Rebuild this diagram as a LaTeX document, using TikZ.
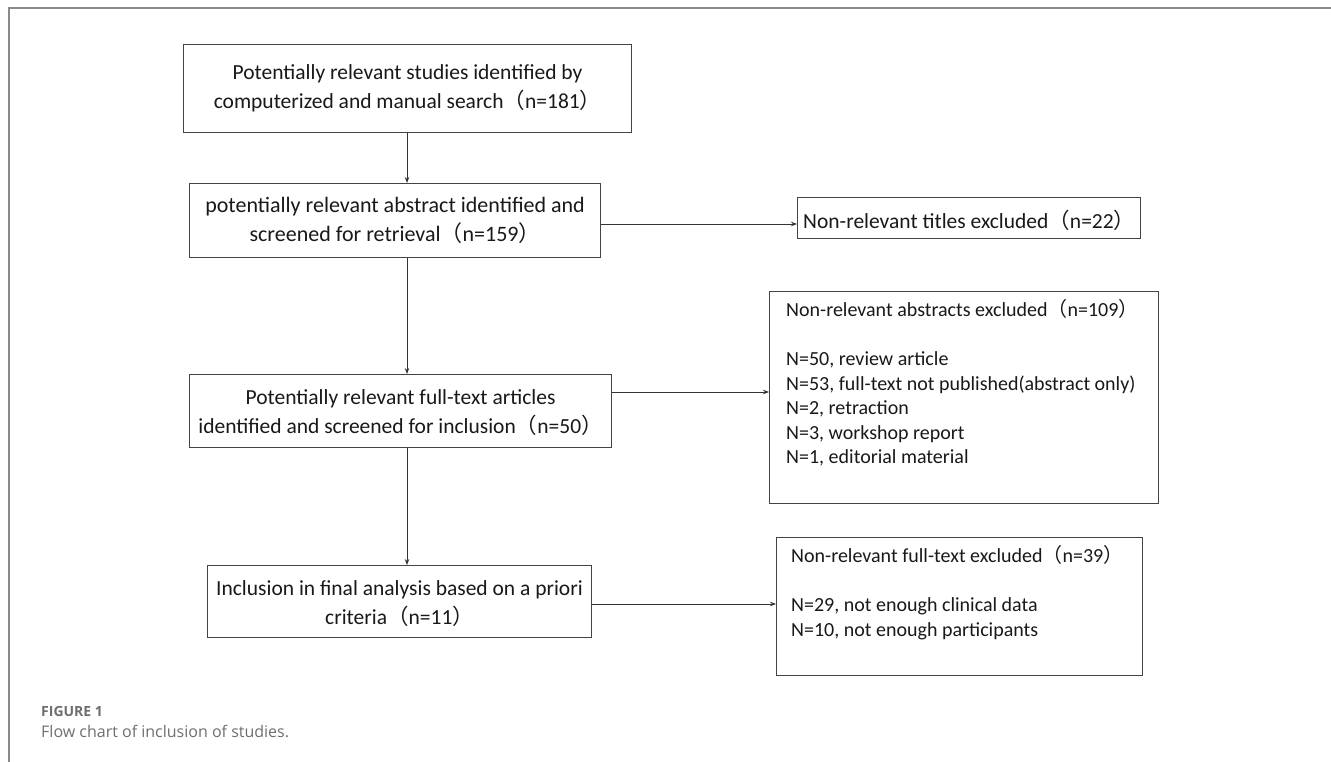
\documentclass[tikz,border=0pt]{standalone}
\usepackage{fontspec}
\setmainfont{Carlito}
\newfontfamily\cjk{Noto Sans CJK SC}
\newfontfamily\capfont{Open Sans}
\usetikzlibrary{arrows.meta}
\newcommand{\lp}{{\cjk （}}
\newcommand{\rp}{{\cjk ）}}
\definecolor{boxline}{HTML}{444444}
\definecolor{arrline}{HTML}{333333}
\definecolor{frameline}{HTML}{8A8A8A}
\definecolor{captext}{HTML}{6E6E6E}
\tikzset{
  box/.style={draw=boxline, line width=1.1pt, fill=white, inner sep=0pt, anchor=north west},
  boxtext/.style={font=\fontsize{21.5}{29}\selectfont, align=center, text=black!90},
  listtext/.style={font=\fontsize{20}{24.5}\selectfont, align=left, anchor=north west, inner sep=0pt, text=black!90},
  arr/.style={draw=arrline, line width=0.9pt, -{Stealth[length=6pt,width=4.5pt]}},
}
\begin{document}
\begin{tikzpicture}[x=1pt,y=-1pt]
\useasboundingbox (0,0) rectangle (1331,762);
% frame
\draw[frameline, line width=2pt] (9,762) -- (9,8) -- (1331,8);
% main column boxes
\node[box, minimum width=448pt, minimum height=88pt] (b1) at (183,44) {};
\node[boxtext] (t1) at (b1.center) {Potentially relevant studies identified by\\computerized and manual search\lp n=181\rp};
\node[box, minimum width=411pt, minimum height=74pt] (b2) at (189,183) {};
\node[boxtext, font=\fontsize{22}{29}\selectfont] (t2) at (b2.center) {potentially relevant abstract identified and\\screened for retrieval\lp n=159\rp};
\node[box, minimum width=422pt, minimum height=73pt] (b3) at (189,374) {};
\node[boxtext] (t3) at ([yshift=-2pt]b3.center) {Potentially relevant full-text articles\\identified and screened for inclusion\lp n=50\rp};
\node[box, minimum width=384pt, minimum height=72pt] (b4) at (207,565) {};
\node[boxtext] (t4) at ([yshift=-2pt]b4.center) {Inclusion in final analysis based on a priori\\criteria\lp n=11\rp};
% right boxes
\node[box, minimum width=343pt, minimum height=41pt] (r1) at (797,197) {};
\node[listtext, font=\fontsize{21.5}{26}\selectfont, anchor=west] (u1) at ([xshift=6pt,yshift=-2pt]r1.west) {Non-relevant titles excluded\lp n=22\rp};
\node[box, minimum width=389pt, minimum height=212pt] (r2) at (769,291) {};
\node[listtext] (u2) at ([xshift=17pt,yshift=-8pt]r2.north west) {Non-relevant abstracts excluded\lp n=109\rp\\[25pt]N=50, review article\\N=53, full-text not published(abstract only)\\N=2, retraction\\N=3, workshop report\\N=1, editorial material};
\node[box, minimum width=366pt, minimum height=138pt] (r3) at (776,537) {};
\node[listtext] (u3) at ([xshift=15pt,yshift=-8pt]r3.north west) {Non-relevant full-text excluded\lp n=39\rp\\[25pt]N=29, not enough clinical data\\N=10, not enough participants};
% connectors
\coordinate (c1) at (407,0);
\draw[arr] (b1.south -| c1) -- (b2.north -| c1);
\draw[arr] (b2.south -| c1) -- (b3.north -| c1);
\draw[arr] (b3.south -| c1) -- (b4.north -| c1);
\coordinate (c0) at (0,224);
\draw[arr] (b2.east |- c0) -- (r1.west |- c0);
\coordinate (c2) at (0,392);
\draw[arr] (b3.east |- c2) -- (r2.west |- c2);
\coordinate (c3) at (0,604);
\draw[arr] (b4.east |- c3) -- (r3.west |- c3);
% caption
\node[anchor=west, inner sep=0pt, text=captext, font=\capfont\bfseries\fontsize{14}{16}\selectfont] (cap1) at (41,711) {FIGURE 1};
\node[anchor=west, inner sep=0pt, text=captext, font=\capfont\fontsize{16}{19}\selectfont] (cap2) at (41,731) {Flow chart of inclusion of studies.};
\end{tikzpicture}
\end{document}
